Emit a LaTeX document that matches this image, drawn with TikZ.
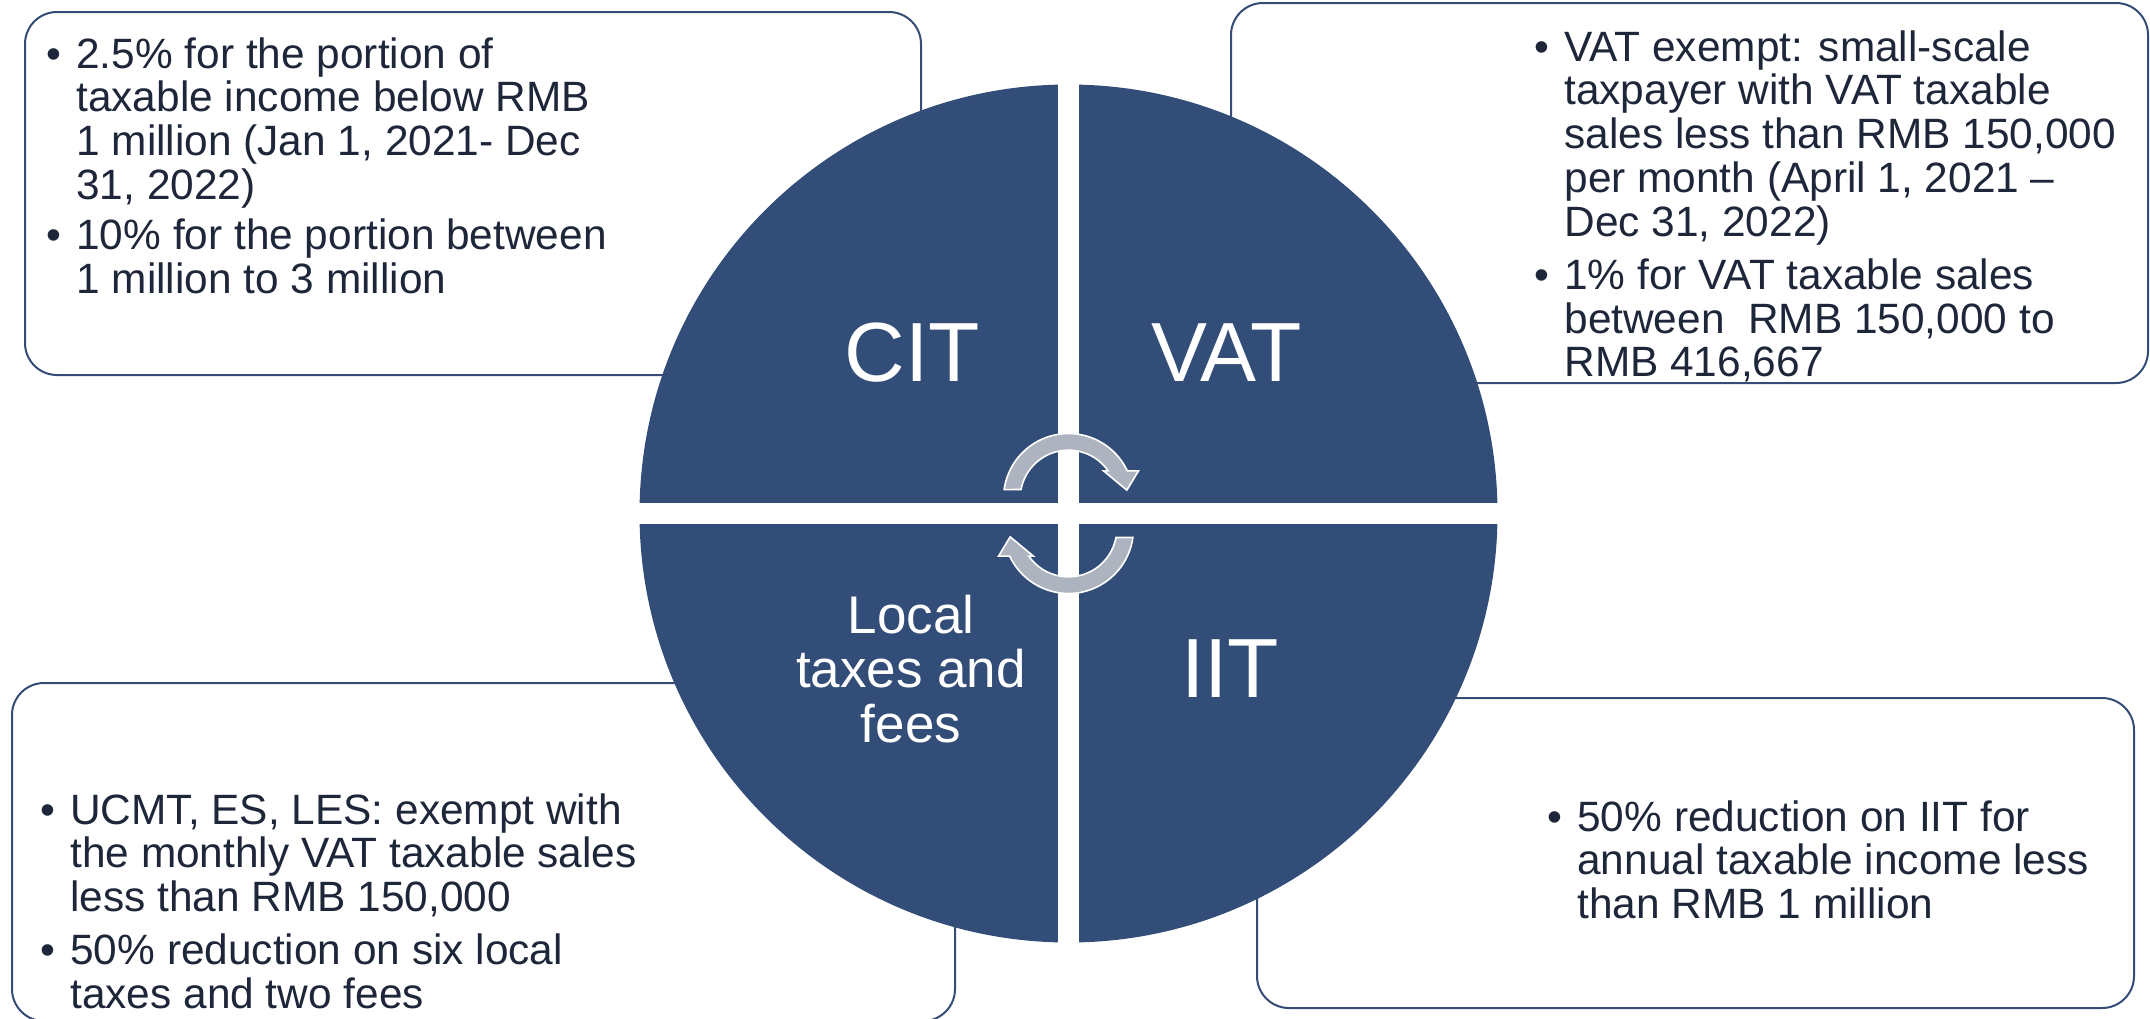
\documentclass[tikz,border=0pt]{standalone}
\usepackage{fontspec}
\setmainfont{Liberation Sans}
\definecolor{circblue}{RGB}{50,77,119}
\definecolor{boxline}{RGB}{52,76,118}
\definecolor{textnavy}{RGB}{30,38,58}
\definecolor{arrowgray}{RGB}{173,180,192}
\newcommand\bul{\makebox[15pt][l]{•}}
\tikzset{
  infobox/.style={draw=boxline, line width=1pt, rounded corners=16pt, fill=white, inner sep=0pt},
  bodytext/.style={inner sep=0pt, text=textnavy, font=\fontsize{21.2}{21.75}\selectfont, anchor=base west},
  biglabel/.style={inner sep=0pt, text=white, font=\fontsize{42}{44}\selectfont, anchor=base},
  midlabel/.style={inner sep=0pt, text=white, font=\fontsize{26.5}{26.65}\selectfont, anchor=base},
  cyc/.style={fill=arrowgray, draw=white, line width=0.8pt},
  gap/.style={fill=white, draw=none}
}
\begin{document}
\begin{tikzpicture}[x=0.5pt,y=-0.5pt]
\useasboundingbox (0,0) rectangle (2150,1018);
\fill[white] (0,0) rectangle (2150,1018);
% boxes
\node[infobox, minimum width=448pt, minimum height=181.5pt] (tlbox) at (473,193.5) {};
\node[infobox, minimum width=458.5pt, minimum height=190pt] (trbox) at (1689.5,193) {};
\node[infobox, minimum width=471.5pt, minimum height=169pt] (blbox) at (483.5,852) {};
\node[infobox, minimum width=438.5pt, minimum height=155pt] (brbox) at (1695.5,853) {};
% circle
\node[circle, fill=circblue, inner sep=0pt, minimum size=429pt] (disc) at (1068.5,513.5) {};
\fill[gap] (1058,60) rectangle (1079,967);
\fill[gap] (620,503) rectangle (1517,524);
% cycle arrows
\begin{scope}[shift={(1068.5,498.5)}]
\path[cyc] (-64.38,-8.93) arc[start angle=-172.1, end angle=-25.2, radius=65] -- (70,-27.67) -- (58.33,-8.33) -- (35,-27.67) -- (39.64,-27.67) arc[start angle=-34.9, end angle=-169.3, radius=48.33] -- cycle;
\end{scope}
\begin{scope}[shift={(1068.5,528.5)}, rotate=180]
\path[cyc] (-64.38,-8.93) arc[start angle=-172.1, end angle=-25.2, radius=65] -- (70,-27.67) -- (58.33,-8.33) -- (35,-27.67) -- (39.64,-27.67) arc[start angle=-34.9, end angle=-169.3, radius=48.33] -- cycle;
\end{scope}
% labels
\node[biglabel] (cit) at (912,381.7) {CIT};
\node[biglabel] (vat) at (1226.5,381.7) {VAT};
\node[biglabel] (iit) at (1230,697.7) {IIT};
\node[midlabel] (local) at (911,633.3) {\begin{tabular}[t]{@{}c@{}}Local\\ taxes and\\ fees\end{tabular}};
% texts
\node[bodytext] (tltext) at (46,68) {\begin{tabular}[t]{@{}l@{}l@{}}
\bul & 2.5\% for the portion of\\
 & taxable income below RMB\\
 & 1 million (Jan 1, 2021- Dec\\
 & 31, 2022)\\[3.25pt]
\bul & 10\% for the portion between\\
 & 1 million to 3 million
\end{tabular}};
\node[bodytext] (trtext) at (1534,61) {\begin{tabular}[t]{@{}l@{}l@{}}
\bul & VAT exempt: small-scale\\
 & taxpayer with VAT taxable\\
 & sales less than RMB 150,000\\
 & per month (April 1, 2021 –\\
 & Dec 31, 2022)\\[4.75pt]
\bul & 1\% for VAT taxable sales\\
 & between\ \ RMB 150,000 to\\
 & RMB 416,667
\end{tabular}};
\node[bodytext] (bltext) at (40,824) {\begin{tabular}[t]{@{}l@{}l@{}}
\bul & UCMT, ES, LES: exempt with\\
 & the monthly VAT taxable sales\\
 & less than RMB 150,000\\[4.75pt]
\bul & 50\% reduction on six local\\
 & taxes and two fees
\end{tabular}};
\node[bodytext] (brtext) at (1547,831) {\begin{tabular}[t]{@{}l@{}l@{}}
\bul & 50\% reduction on IIT for\\
 & annual taxable income less\\
 & than RMB 1 million
\end{tabular}};
\end{tikzpicture}
\end{document}
